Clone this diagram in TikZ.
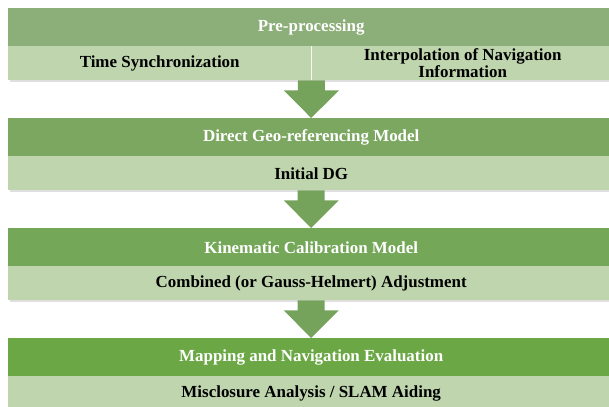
\documentclass[tikz,border=0pt]{standalone}
\usepackage{fontspec}
\setmainfont{Liberation Serif}
\usetikzlibrary{calc,shadows}
\definecolor{hA}{HTML}{8CAE78}
\definecolor{hB}{HTML}{7CA761}
\definecolor{hC}{HTML}{74A757}
\definecolor{hD}{HTML}{6BA845}
\definecolor{sub}{HTML}{BFD5AE}
\definecolor{arr}{HTML}{76A35C}
\tikzset{
  box/.style={anchor=north west, inner sep=0pt, minimum height=34bp,
    font=\bfseries\fontsize{17}{18}\selectfont, align=center,
    drop shadow={shadow xshift=1.5bp, shadow yshift=-1.5bp, opacity=0.25}},
  hdr/.style={box, minimum width=606bp, minimum height=38bp, text=white},
  subrow/.style={box, fill=sub, text=black, minimum width=606bp},
  subcell/.style={box, fill=sub, text=black, minimum width=303bp},
  arrowfill/.style={fill=arr}
}
\newcommand\flowarrow[2]{%
  \fill[arrowfill] ($(#1)+(-13.5bp,0)$) -- ($(#1)+(13.5bp,0)$) --
    ($(#1)+(13.5bp,-10bp)$) -- ($(#1)+(27.5bp,-10bp)$) -- (#2) --
    ($(#1)+(-27.5bp,-10bp)$) -- ($(#1)+(-13.5bp,-10bp)$) -- cycle;}
\begin{document}
\begin{tikzpicture}[x=1bp,y=-1bp]
\useasboundingbox (0,0) rectangle (609,406);
% stage 1
\node[hdr, fill=hA] (h1) at (8,8) {Pre-processing};
\node[subcell] (s1a) at (8,46) {Time Synchronization};
\node[subcell] (s1b) at (311,46) {Interpolation of Navigation\\[-1bp]Information};
\draw[white!85!sub, line width=0.6bp] (s1a.north east) -- (s1a.south east);
% stage 2
\node[hdr, fill=hB] (h2) at (8,118) {Direct Geo-referencing Model};
\node[subrow] (s2) at (8,156) {Initial DG};
% stage 3
\node[hdr, fill=hC] (h3) at (8,228) {Kinematic Calibration Model};
\node[subrow] (s3) at (8,266) {Combined (or Gauss-Helmert) Adjustment};
% stage 4
\node[hdr, fill=hD] (h4) at (8,338) {Mapping and Navigation Evaluation};
\node[subrow] (s4) at (8,376) {Misclosure Analysis / SLAM Aiding};
% arrows
\flowarrow{s1a.south east}{h2.north}
\flowarrow{s2.south}{h3.north}
\flowarrow{s3.south}{h4.north}
\end{tikzpicture}
\end{document}
